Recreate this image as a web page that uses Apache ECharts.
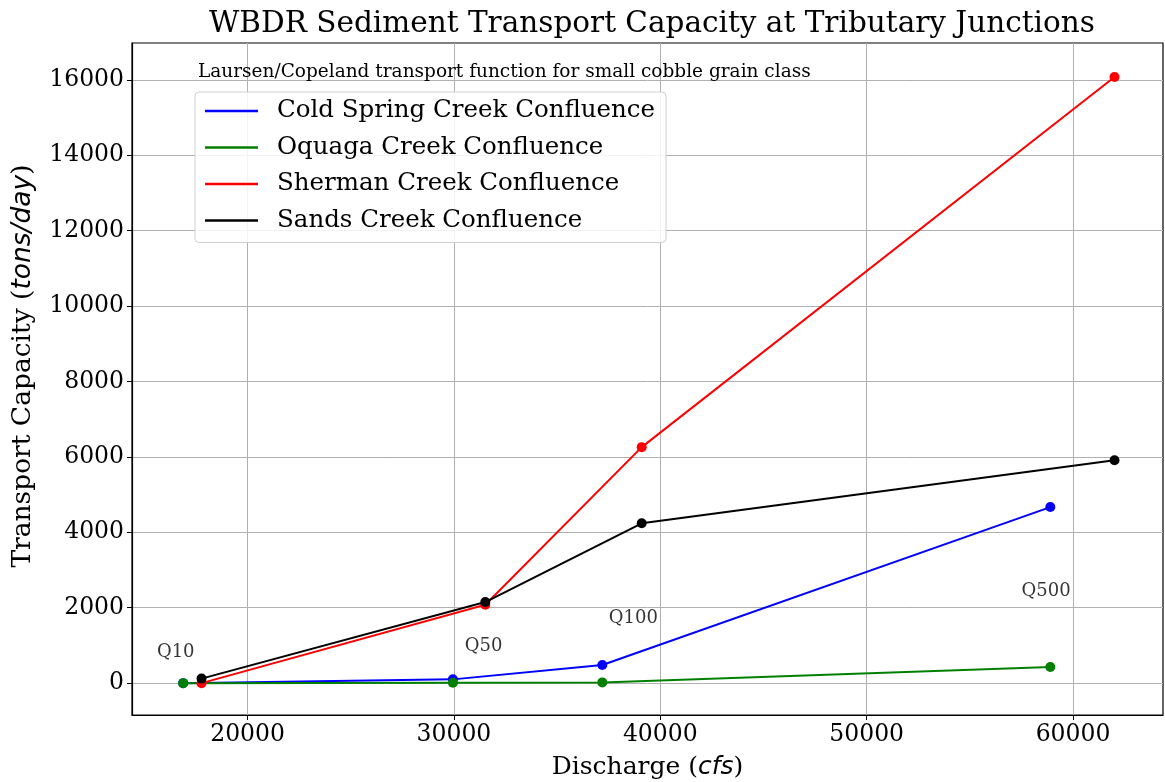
<!DOCTYPE html>
<html>
<head>
<meta charset="utf-8">
<script src="https://cdn.jsdelivr.net/npm/echarts@6/dist/echarts.min.js"></script>
<style>
  html, body { margin: 0; padding: 0; background: #fff; }
  #chart { width: 1165px; height: 782px; }
</style>
</head>
<body>
<div id="chart"></div>
<script>
// series names (legend order)
const seriesNames = ['Cold Spring Creek Confluence', 'Oquaga Creek Confluence', 'Sherman Creek Confluence', 'Sands Creek Confluence'];
const seriesColors = ['#0000ff', '#008000', '#ff0000', '#000000'];

// discharge (cfs) and capacity (tons/day)
const coldSpringQ = [16880, 29950, 37190, 58900];
const coldSpringCap = [0, 100, 480, 4670];
const oquagaQ = [16880, 29950, 37190, 58900];
const oquagaCap = [0, 10, 20, 430];
const shermanQ = [17770, 31520, 39100, 62010];
const shermanCap = [0, 2080, 6260, 16080];
const sandsQ = [17770, 31520, 39100, 62010];
const sandsCap = [120, 2150, 4240, 5910];

// return-period annotations
const qLabels = ['Q10', 'Q50', 'Q100', 'Q500'];
const qLabelX = [15630, 30550, 37530, 57530];
const qLabelY = [560, 720, 1470, 2190];

// tick labels
const xTicks = [20000, 30000, 40000, 50000, 60000];
const yTicks = [0, 2000, 4000, 6000, 8000, 10000, 12000, 14000, 16000];

const serif = "'DejaVu Serif', serif";
const sansItalic = "'DejaVu Sans', sans-serif";

const allQ = [coldSpringQ, oquagaQ, shermanQ, sandsQ];
const allCap = [coldSpringCap, oquagaCap, shermanCap, sandsCap];

const lineSeries = seriesNames.map((name, i) => ({
  name: name,
  type: 'line',
  data: allQ[i].map((q, j) => [q, allCap[i][j]]),
  symbol: 'circle',
  symbolSize: 10,
  showSymbol: true,
  lineStyle: { width: 2, color: seriesColors[i] },
  itemStyle: { color: seriesColors[i] },
  emphasis: { disabled: true },
  z: 3 + i
}));

const labelSeries = {
  name: 'labels',
  type: 'scatter',
  data: qLabels.map((t, i) => [qLabelX[i], qLabelY[i], t]),
  symbolSize: 1,
  itemStyle: { color: 'rgba(0,0,0,0)' },
  silent: true,
  label: {
    show: true,
    position: [0, 0],
    align: 'left',
    verticalAlign: 'bottom',
    formatter: p => p.data[2],
    fontFamily: serif,
    fontSize: 18,
    color: '#000'
  }
};

const chart = echarts.init(document.getElementById('chart'));
chart.setOption({
  animation: false,
  backgroundColor: '#fff',
  title: [
    {
      text: 'WBDR Sediment Transport Capacity at Tributary Junctions',
      left: 204,
      top: 4,
      textStyle: { fontFamily: serif, fontSize: 29.5, fontWeight: 'normal', color: '#000' }
    },
    {
      text: 'Laursen/Copeland transport function for small cobble grain class',
      left: 193,
      top: 58,
      textStyle: { fontFamily: serif, fontSize: 18.5, fontWeight: 'normal', color: '#000' }
    }
  ],
  legend: {
    data: seriesNames,
    orient: 'vertical',
    left: 195,
    top: 92,
    padding: [5, 11, 8, 10],
    itemGap: 8.5,
    itemWidth: 53,
    itemHeight: 2.5,
    icon: 'rect',
    backgroundColor: 'rgba(255,255,255,0.85)',
    borderColor: '#d0d0d0',
    borderWidth: 1,
    borderRadius: 4,
    selectedMode: false,
    textStyle: { fontFamily: serif, fontSize: 24.5, color: '#000', lineHeight: 28, padding: [0, 0, 0, 14] }
  },
  grid: {
    left: 132,
    right: 2,
    top: 43,
    bottom: 67,
    show: true,
    borderColor: '#000',
    borderWidth: 1.2,
    outerBoundsMode: 'none',
    containLabel: false
  },
  xAxis: {
    type: 'value',
    min: 14400,
    max: 64360,
    name: 'Discharge ({i|cfs})',
    nameLocation: 'middle',
    nameGap: 40,
    nameTextStyle: {
      fontFamily: serif, fontSize: 25, color: '#000',
      rich: { i: { fontFamily: sansItalic, fontSize: 25, fontStyle: 'italic', color: '#000' } }
    },
    axisLine: { show: true, onZero: false, lineStyle: { color: '#000', width: 1.2 } },
    axisTick: { show: true, length: 5, lineStyle: { color: '#000' }, customValues: xTicks },
    axisLabel: { fontFamily: serif, fontSize: 23.5, color: '#000', margin: 8, customValues: xTicks, formatter: v => String(v) },
    splitLine: { show: true, lineStyle: { color: '#b0b0b0', width: 1 } }
  },
  yAxis: {
    type: 'value',
    min: -845,
    max: 16980,
    name: 'Transport Capacity ({i|tons/day})',
    nameLocation: 'middle',
    nameGap: 95,
    nameTextStyle: {
      fontFamily: serif, fontSize: 26.5, color: '#000', padding: [0, 0, 0, 26],
      rich: { i: { fontFamily: sansItalic, fontSize: 26.5, fontStyle: 'italic', color: '#000' } }
    },
    axisLine: { show: true, onZero: false, lineStyle: { color: '#000', width: 1.2 } },
    axisTick: { show: true, length: 5, lineStyle: { color: '#000' }, customValues: yTicks },
    axisLabel: { fontFamily: serif, fontSize: 23.5, color: '#000', margin: 8, customValues: yTicks, formatter: v => String(v) },
    splitLine: { show: true, lineStyle: { color: '#b0b0b0', width: 1 } }
  },
  series: lineSeries.concat([labelSeries])
});
</script>
</body>
</html>
